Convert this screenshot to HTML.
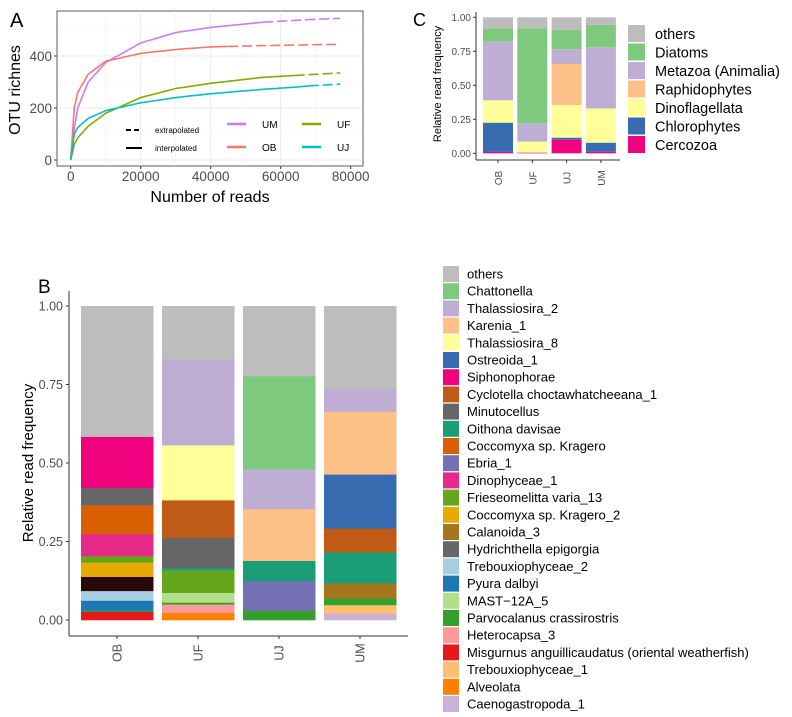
<!DOCTYPE html>
<html><head><meta charset="utf-8"><style>
body{margin:0;background:#fff;width:792px;height:717px;overflow:hidden;font-family:"Liberation Sans",sans-serif}
svg{position:absolute;left:0;top:0}
</style></head><body>
<svg id="fig" width="792" height="717" font-family="Liberation Sans, sans-serif"></svg>
<script>
// ---- Panel A data ----
const rareGroups=['UM','OB','UF','UJ'];
const rareX=[0,1000,2000,5000,10000,20000,30000,40000,55000,64000,68000,77000];
const rareUM=[0,120,200,300,375,450,490,510,530,537,540,545];
const rareOB=[0,200,260,330,380,410,425,435,440,442,443,445];
const rareUF=[0,60,85,130,180,240,275,295,318,325,328,335];
const rareUJ=[0,100,125,160,190,220,240,255,272,280,285,292];
const rareInterpEnd=[55000,45000,64000,68000];
const xTicksA=[0,20000,40000,60000,80000];
const yTicksA=[0,200,400];
// ---- Panel C data ----
const catsC=['OB','UF','UJ','UM'];
const groupsC=['Cercozoa','Chlorophytes','Dinoflagellata','Raphidophytes','Metazoa (Animalia)','Diatoms','others'];
const valsOB_C=[0.01,0.215,0.165,0,0.43,0.097,0.083];
const valsUF_C=[0.005,0,0.081,0,0.134,0.70,0.08];
const valsUJ_C=[0.10,0.015,0.24,0.302,0.108,0.142,0.093];
const valsUM_C=[0.012,0.066,0.252,0,0.45,0.164,0.056];
const colsC=['#f0027f','#386cb0','#ffff99','#fdc086','#beaed4','#7fc97f','#bdbdbd'];
const yTicksC=['0.00','0.25','0.50','0.75','1.00'];
// ---- Panel B data ----
const catsB=['OB','UF','UJ','UM'];
const legendB=['others','Chattonella','Thalassiosira_2','Karenia_1','Thalassiosira_8','Ostreoida_1','Siphonophorae','Cyclotella choctawhatcheeana_1','Minutocellus','Oithona davisae','Coccomyxa sp. Kragero','Ebria_1','Dinophyceae_1','Frieseomelitta varia_13','Coccomyxa sp. Kragero_2','Calanoida_3','Hydrichthella epigorgia','Trebouxiophyceae_2','Pyura dalbyi','MAST−12A_5','Parvocalanus crassirostris','Heterocapsa_3','Misgurnus anguillicaudatus (oriental weatherfish)','Trebouxiophyceae_1','Alveolata','Caenogastropoda_1'];
const legendColB=['#bdbdbd','#7fc97f','#beaed4','#fdc086','#ffff99','#386cb0','#f0027f','#bf5b17','#666666','#1b9e77','#d95f02','#7570b3','#e7298a','#66a61e','#e6ab02','#a6761d','#666666','#a6cee3','#1f78b4','#b2df8a','#33a02c','#fb9a99','#e31a1c','#fdbf6f','#ff7f00','#cab2d6'];
const stackOB_names=['Misgurnus anguillicaudatus (oriental weatherfish)','Oithona davisae','Pyura dalbyi','Trebouxiophyceae_2','dark','Coccomyxa sp. Kragero_2','Frieseomelitta varia_13','Dinophyceae_1','Coccomyxa sp. Kragero','Minutocellus','Siphonophorae','others'];
const stackOB_vals=[0.027,0.005,0.030,0.031,0.045,0.046,0.020,0.070,0.092,0.055,0.163,0.416];
const stackUF_names=['Alveolata','Heterocapsa_3','Parvocalanus crassirostris','MAST−12A_5','Frieseomelitta varia_13','Oithona davisae','Minutocellus','Cyclotella choctawhatcheeana_1','Thalassiosira_8','Thalassiosira_2','others'];
const stackUF_vals=[0.023,0.027,0.006,0.031,0.072,0.007,0.096,0.120,0.175,0.274,0.169];
const stackUJ_names=['Parvocalanus crassirostris','Ebria_1','Oithona davisae','Karenia_1','Thalassiosira_2','Chattonella','others'];
const stackUJ_vals=[0.030,0.094,0.065,0.165,0.126,0.297,0.223];
const stackUM_names=['Caenogastropoda_1','Trebouxiophyceae_1','Parvocalanus crassirostris','Calanoida_3','Oithona davisae','Cyclotella choctawhatcheeana_1','Ostreoida_1','Karenia_1','Thalassiosira_2','others'];
const stackUM_vals=[0.021,0.027,0.021,0.048,0.099,0.076,0.172,0.200,0.074,0.262];
const yTicksB=['0.00','0.25','0.50','0.75','1.00'];

const NS='http://www.w3.org/2000/svg';
const svg=document.getElementById('fig');
function mk(tag,attrs,parent,text){const e=document.createElementNS(NS,tag);for(const k in attrs)e.setAttribute(k,attrs[k]);if(text!==undefined)e.textContent=text;(parent||svg).appendChild(e);return e;}

// ===== Panel A =====
const ax=v=>70.7+v*0.0035, ay=v=>160-v*0.26;
let t=mk('text',{x:10,y:27,'font-size':20,fill:'#000'},svg,'A');


const pA=mk('rect',{x:57,y:11,width:306,height:155,fill:'#fff',stroke:'#333','stroke-width':0.8});


for(let v=10000;v<80000;v+=10000){const g=mk('line',{x1:ax(v),x2:ax(v),y1:11,y2:166,stroke:v%20000?'#f2f2f2':'#e5e5e5','stroke-width':v%20000?0.5:0.8});

}
for(let v=100;v<600;v+=100){const g=mk('line',{x1:57,x2:363,y1:ay(v),y2:ay(v),stroke:v%200?'#f2f2f2':'#e5e5e5','stroke-width':v%200?0.5:0.8});

}
mk('line',{x1:57,x2:363,y1:ay(0),y2:ay(0),stroke:'#e5e5e5','stroke-width':0.8});
const colA=['#c77cff','#f8766d','#7cae00','#00bfc4'];
const seriesA=[rareUM,rareOB,rareUF,rareUJ];
function interp(arr,x){for(let i=1;i<rareX.length;i++){if(x<=rareX[i]){const t=(x-rareX[i-1])/(rareX[i]-rareX[i-1]);return arr[i-1]+t*(arr[i]-arr[i-1]);}}return arr[arr.length-1];}
function smooth(arr,a,b){let d='';for(let x=a;x<=b;x+=(x<2000?100:500)){d+=(d?'L':'M')+ax(x).toFixed(1)+','+ay(interp(arr,x)).toFixed(1);}return d;}
seriesA.forEach((arr,i)=>{
  const s=mk('path',{d:smooth(arr,0,rareInterpEnd[i]),fill:'none',stroke:colA[i],'stroke-width':1.6});
  
  
  const e=mk('path',{d:smooth(arr,rareInterpEnd[i],77000),fill:'none',stroke:colA[i],'stroke-width':1.6,'stroke-dasharray':'10 4'});
  
  
});
xTicksA.forEach(v=>{mk('line',{x1:ax(v),x2:ax(v),y1:166,y2:169,stroke:'#333'});const l=mk('text',{x:ax(v),y:181,'font-size':13.5,fill:'#4d4d4d','text-anchor':'middle'},svg,v);

});
yTicksA.forEach(v=>{mk('line',{x1:54,x2:57,y1:ay(v),y2:ay(v),stroke:'#333'});const l=mk('text',{x:52,y:ay(v)+5,'font-size':13.5,fill:'#4d4d4d','text-anchor':'end'},svg,v);

});
t=mk('text',{x:210,y:202,'font-size':16,fill:'#000','text-anchor':'middle'},svg,'Number of reads');


t=mk('text',{x:0,y:0,'font-size':16,fill:'#000','text-anchor':'middle',transform:'translate(20,90) rotate(-90)'},svg,'OTU richnes');


mk('line',{x1:126,x2:142,y1:130,y2:130,stroke:'#000','stroke-width':2,'stroke-dasharray':'5 3'});
t=mk('text',{x:155,y:133,'font-size':8,fill:'#000'},svg,'extrapolated');


mk('line',{x1:126,x2:142,y1:148,y2:148,stroke:'#000','stroke-width':2});
t=mk('text',{x:155,y:151,'font-size':8,fill:'#000'},svg,'interpolated');


const legA=[[0,227,124,262],[1,227,147,262],[2,302,124,337],[3,302,147,337]];
legA.forEach(([i,x,y,tx])=>{mk('line',{x1:x,x2:x+19,y1:y,y2:y,stroke:colA[i],'stroke-width':2.5});const l=mk('text',{x:tx,y:y+4,'font-size':10,fill:'#000'},svg,rareGroups[i]);

});

// ===== Panel C =====
const cy=v=>153.3-v*136;
t=mk('text',{x:413,y:26,'font-size':18,fill:'#000'},svg,'C');


mk('line',{x1:476,x2:476,y1:12,y2:160,stroke:'#333','stroke-width':1});
mk('line',{x1:476,x2:620,y1:160,y2:160,stroke:'#333','stroke-width':1});
yTicksC.forEach(s=>{const v=parseFloat(s);mk('line',{x1:473,x2:476,y1:cy(v),y2:cy(v),stroke:'#333'});const l=mk('text',{x:471,y:cy(v)+3.5,'font-size':10,fill:'#4d4d4d','text-anchor':'end'},svg,s);

});
t=mk('text',{x:0,y:0,'font-size':11,fill:'#000','text-anchor':'middle',transform:'translate(441,84) rotate(-90)'},svg,'Relative read frequency');


const valsC=[valsOB_C,valsUF_C,valsUJ_C,valsUM_C];
catsC.forEach((c,ci)=>{
  const x0=483+ci*34.3;let acc=0;
  valsC[ci].forEach((v,gi)=>{if(v<=0)return;const r=mk('rect',{x:x0,y:cy(acc+v),width:30,height:v*136,fill:colsC[gi]});
  
  acc+=v;});
  mk('line',{x1:x0+15,x2:x0+15,y1:160,y2:163,stroke:'#333'});
  const l=mk('text',{x:0,y:0,'font-size':10,fill:'#4d4d4d','text-anchor':'middle',transform:`translate(${x0+19},178) rotate(-90)`},svg,c);
  
  
});
for(let i=0;i<groupsC.length;i++){const gi=groupsC.length-1-i;const y=25+i*18.5;
  const r=mk('rect',{x:628,y:y,width:17,height:17,fill:colsC[gi]});
  
  
  const l=mk('text',{x:655,y:y+14,'font-size':14.5,fill:'#000'},svg,groupsC[gi]);
  
  }

// ===== Panel B =====
const by=v=>620-v*314;
t=mk('text',{x:38,y:293,'font-size':19,fill:'#000'},svg,'B');


mk('line',{x1:69,x2:69,y1:291,y2:636,stroke:'#333','stroke-width':1});
mk('line',{x1:69,x2:408,y1:636,y2:636,stroke:'#333','stroke-width':1});
yTicksB.forEach(s=>{const v=parseFloat(s);mk('line',{x1:66,x2:69,y1:by(v),y2:by(v),stroke:'#333'});const l=mk('text',{x:63,y:by(v)+4.5,'font-size':12.5,fill:'#4d4d4d','text-anchor':'end'},svg,s);

});
t=mk('text',{x:0,y:0,'font-size':15,fill:'#000','text-anchor':'middle',transform:'translate(33,463) rotate(-90)'},svg,'Relative read frequency');


const namesB=[stackOB_names,stackUF_names,stackUJ_names,stackUM_names];
const valsB=[stackOB_vals,stackUF_vals,stackUJ_vals,stackUM_vals];
function colB(n){const i=legendB.indexOf(n);return i<0?'#2a0808':legendColB[i];}
catsB.forEach((c,ci)=>{
  const x0=81+ci*81;let acc=0;
  valsB[ci].forEach((v,gi)=>{const r=mk('rect',{x:x0,y:by(acc+v),width:72.5,height:v*314+0.3,fill:colB(namesB[ci][gi])});
  
  acc+=v;});
  mk('line',{x1:x0+36,x2:x0+36,y1:636,y2:639,stroke:'#333'});
  const l=mk('text',{x:0,y:0,'font-size':12.5,fill:'#4d4d4d','text-anchor':'middle',transform:`translate(${x0+40.5},653) rotate(-90)`},svg,c);
  
  
});
legendB.forEach((n,i)=>{const y=266+i*17.2;
  const r=mk('rect',{x:443,y:y,width:16,height:16,fill:legendColB[i]});
  
  
  const l=mk('text',{x:467,y:y+12.5,'font-size':13,fill:'#000'},svg,n);
  
  });
</script>
</body></html>
